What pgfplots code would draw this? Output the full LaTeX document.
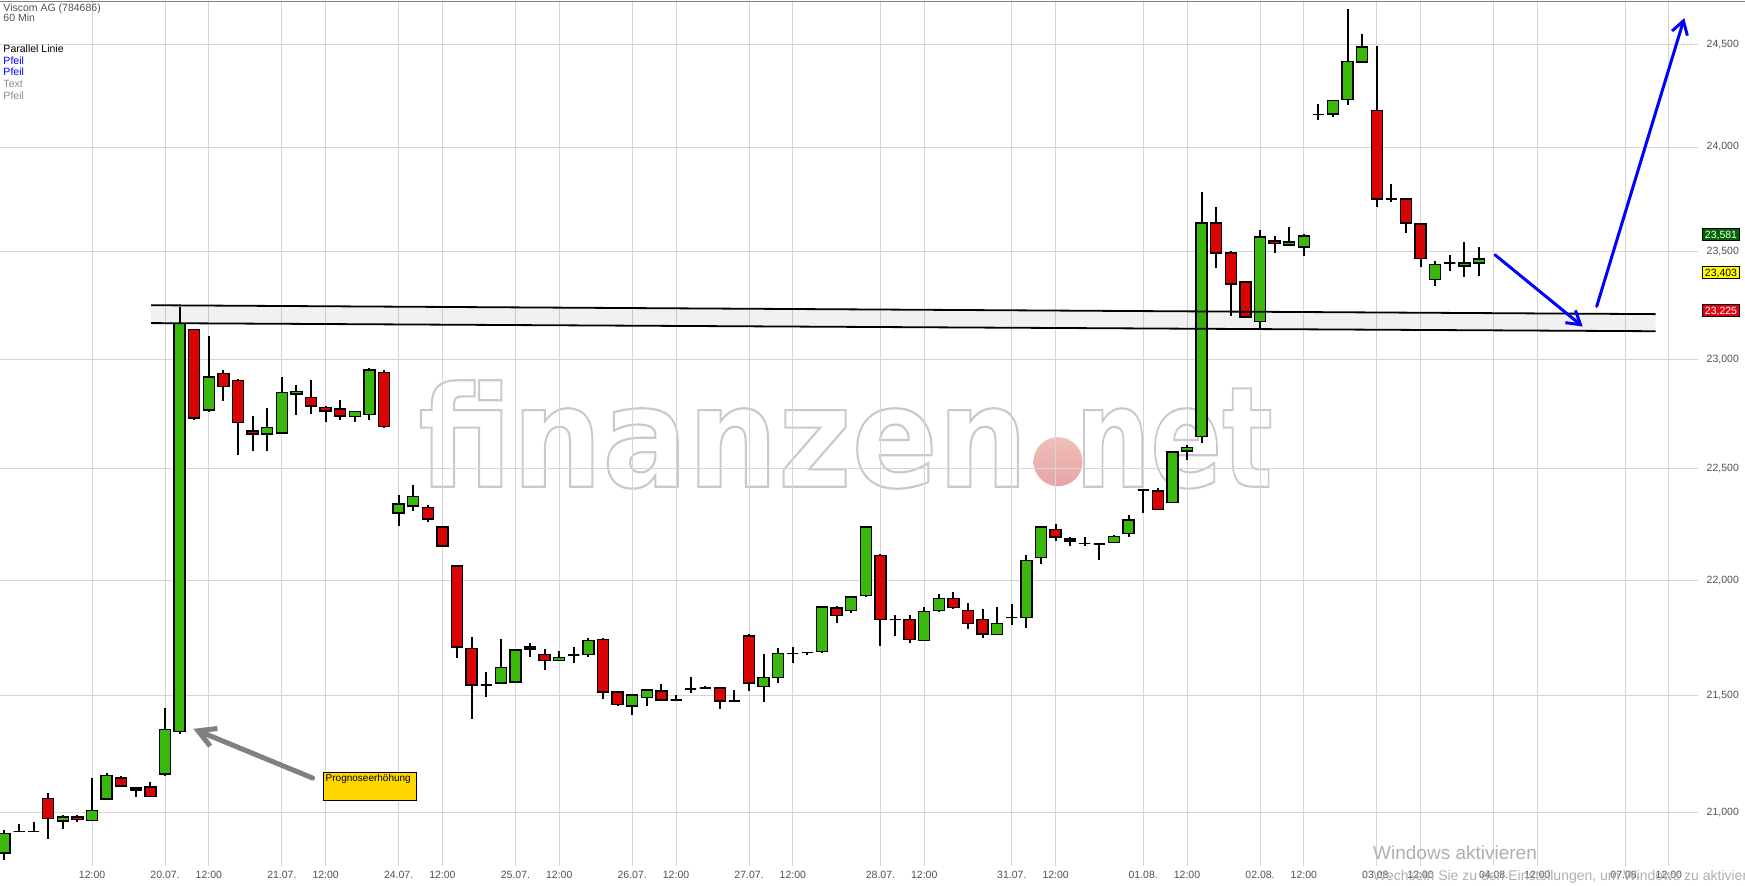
\documentclass[border=0pt]{standalone}
\usepackage{pgfplots}
\pgfplotsset{compat=1.18}
\usepackage{pgfplotstable}
\usepgfplotslibrary{statistics}
\usetikzlibrary{arrows.meta}
\usepackage{fontspec}
\setmainfont{Liberation Sans}
\newfontfamily\wmfont{DejaVu Sans}

\definecolor{cgreen}{RGB}{58,184,14}
\definecolor{cred}{RGB}{219,4,4}
\definecolor{gridc}{RGB}{214,214,214}
\definecolor{labc}{RGB}{80,80,80}
\definecolor{wmgray}{RGB}{200,200,200}
\definecolor{gold}{RGB}{255,215,0}
\definecolor{boxgreen}{RGB}{0,100,0}
\definecolor{boxred}{RGB}{225,0,20}
\definecolor{boxyellow}{RGB}{255,255,0}
\definecolor{arrowgray}{RGB}{128,128,128}
\definecolor{lightlab}{RGB}{140,140,140}
\definecolor{winc}{RGB}{175,175,175}

% hourly candles, one row per hour: open high low close
\pgfplotstableread{
o h l c
20.83 20.925 20.80 20.91
20.92 20.95 20.92 20.92
20.92 20.96 20.92 20.92
21.06 21.08 20.89 20.975
20.963 20.99 20.93 20.981
20.98 20.99 20.96 20.97
20.967 21.146 20.963 21.009
21.056 21.165 21.051 21.157
21.146 21.155 21.108 21.111
21.095 21.108 21.064 21.102
21.108 21.13 21.064 21.068
21.162 21.445 21.153 21.353
21.344 23.24 21.331 23.165
23.136 23.14 22.718 22.73
22.766 23.106 22.758 22.917
22.933 22.95 22.807 22.874
22.90 22.909 22.56 22.71
22.67 22.738 22.579 22.657
22.657 22.774 22.579 22.685
22.66 22.917 22.657 22.847
22.839 22.879 22.741 22.852
22.823 22.904 22.746 22.784
22.777 22.782 22.71 22.761
22.771 22.811 22.721 22.738
22.735 22.763 22.71 22.758
22.746 22.961 22.718 22.95
22.937 22.95 22.685 22.69
22.301 22.381 22.244 22.34
22.331 22.426 22.311 22.375
22.326 22.337 22.259 22.273
22.237 22.243 22.148 22.153
22.064 22.068 21.66 21.708
21.703 21.751 21.397 21.543
21.544 21.60 21.491 21.544
21.552 21.742 21.548 21.62
21.556 21.699 21.552 21.695
21.699 21.726 21.664 21.708
21.677 21.699 21.608 21.651
21.651 21.693 21.648 21.664
21.675 21.71 21.638 21.675
21.677 21.747 21.664 21.738
21.742 21.747 21.482 21.513
21.513 21.517 21.455 21.459
21.453 21.504 21.414 21.50
21.491 21.528 21.455 21.522
21.517 21.548 21.474 21.479
21.479 21.50 21.476 21.479
21.526 21.58 21.508 21.526
21.532 21.538 21.526 21.532
21.53 21.534 21.44 21.474
21.475 21.522 21.474 21.475
21.757 21.764 21.519 21.552
21.538 21.678 21.47 21.577
21.577 21.703 21.552 21.681
21.68 21.71 21.638 21.68
21.684 21.688 21.674 21.684
21.688 21.888 21.684 21.884
21.879 21.888 21.815 21.847
21.869 21.933 21.856 21.928
21.934 22.242 21.927 22.237
22.112 22.117 21.711 21.828
21.828 21.85 21.757 21.828
21.828 21.85 21.725 21.742
21.738 21.884 21.738 21.865
21.867 21.94 21.863 21.922
21.922 21.949 21.874 21.882
21.867 21.90 21.789 21.812
21.828 21.874 21.747 21.765
21.764 21.884 21.76 21.812
21.837 21.897 21.805 21.837
21.837 22.113 21.793 22.09
22.103 22.242 22.073 22.237
22.228 22.252 22.174 22.193
22.184 22.193 22.153 22.175
22.165 22.193 22.153 22.165
22.162 22.162 22.092 22.162
22.17 22.203 22.166 22.197
22.21 22.29 22.193 22.269
22.403 22.403 22.30 22.403
22.398 22.414 22.313 22.317
22.349 22.579 22.344 22.575
22.579 22.606 22.539 22.597
22.646 23.784 22.616 23.636
23.636 23.712 23.423 23.494
23.494 23.505 23.20 23.349
23.358 23.364 23.189 23.194
23.174 23.605 23.14 23.57
23.552 23.576 23.494 23.538
23.532 23.618 23.529 23.546
23.522 23.585 23.479 23.575
24.156 24.21 24.13 24.156
24.16 24.229 24.144 24.224
24.229 24.674 24.205 24.416
24.413 24.55 24.408 24.486
24.178 24.489 23.715 23.75
23.75 23.822 23.737 23.75
23.75 23.755 23.588 23.636
23.631 23.636 23.431 23.47
23.369 23.459 23.341 23.442
23.447 23.483 23.408 23.447
23.434 23.546 23.381 23.447
23.447 23.522 23.387 23.466
}\candles

\begin{document}
\begin{tikzpicture}[x=1bp,y=1bp]

% finanzen.net watermark (outlined text)
\node[anchor=base west, inner sep=0, xscale=0.905, text=wmgray,
  font=\wmfont\bfseries\fontsize{140bp}{140bp}\selectfont] at (418,398.3)
  {\special{pdf:literal direct 1 Tr 2.2 w 0.79 0.79 0.79 RG}finanzen\special{pdf:literal direct 0 Tr}};
\shade[top color={rgb,255:red,238;green,192;blue,182}, bottom color={rgb,255:red,232;green,163;blue,168}]
  (1058,423.3) circle[radius=24.5];
\node[anchor=base west, inner sep=0, xscale=0.755, text=wmgray,
  font=\wmfont\bfseries\fontsize{140bp}{140bp}\selectfont] at (1075,398.3)
  {\special{pdf:literal direct 1 Tr 2.2 w 0.79 0.79 0.79 RG}net\special{pdf:literal direct 0 Tr}};

\begin{axis}[
  at={(0bp,19bp)}, anchor=south west,
  scale only axis, width=1698bp, height=864bp,
  ymode=log, ymin=20.776, ymax=24.710,
  xmin=-0.305, xmax=116.0,
  clip=false,
  axis line style={draw=none},
  major tick length=0pt,
  grid=major,
  major grid style={draw=gridc, line width=1bp},
  xtick={6,11,14,19,22,27,30,35,38,43,46,51,54,60,63,69,72,78,81,86,89,94,97,102,105,111,114},
  xticklabels={12:00,20.07.,12:00,21.07.,12:00,24.07.,12:00,25.07.,12:00,26.07.,12:00,27.07.,12:00,28.07.,12:00,31.07.,12:00,01.08.,12:00,02.08.,12:00,03.08.,12:00,04.08.,12:00,07.08.,12:00},
  ytick={21,21.5,22,22.5,23,23.5,24,24.5},
  yticklabels={{21,000},{21,500},{22,000},{22,500},{23,000},{23,500},{24,000},{24,500}},
  yticklabel pos=right,
  tick label style={font=\fontsize{10.5bp}{12bp}\selectfont, text=labc, inner sep=0pt},
  xticklabel style={anchor=north, yshift=-5bp},
  yticklabel style={anchor=west, xshift=8.5bp},
  boxplot/draw direction=y,
  boxplot/box extend=0.75,
  boxplot/whisker extend=0,
  boxplot/every whisker/.style={line width=2bp, draw=black},
  boxplot/every median/.style={line width=1.4bp, draw=black},
]

% candles
\pgfplotsforeachungrouped \i in {0,...,101}{%
  \pgfplotstablegetelem{\i}{o}\of\candles \let\vo=\pgfplotsretval
  \pgfplotstablegetelem{\i}{h}\of\candles \let\vh=\pgfplotsretval
  \pgfplotstablegetelem{\i}{l}\of\candles \let\vl=\pgfplotsretval
  \pgfplotstablegetelem{\i}{c}\of\candles \let\vc=\pgfplotsretval
  \pgfmathsetmacro\vmin{min(\vo,\vc)}%
  \pgfmathsetmacro\vmax{max(\vo,\vc)}%
  \pgfmathtruncatemacro\vup{\vc>=\vo}%
  \ifnum\vup=1 \def\vcol{cgreen}\else\def\vcol{cred}\fi
  \edef\doplot{\noexpand\addplot[draw=black, line width=1.4bp, fill=\vcol,
    boxplot prepared={draw position=\i, lower whisker=\vl, lower quartile=\vmin,
      median=\vmin, upper quartile=\vmax, upper whisker=\vh}] coordinates {};}%
  \doplot
}

% parallel channel
\addplot[draw=none, fill=black, fill opacity=0.055]
  coordinates {(10.04,23.25) (113.1,23.208) (113.1,23.129) (10.04,23.166)} -- cycle;
\addplot[black, line width=1.8bp] coordinates {(10.04,23.25) (113.1,23.208)};
\addplot[black, line width=1.8bp] coordinates {(10.04,23.166) (113.1,23.129)};

% arrows
\addplot[blue, line width=3bp, line cap=round,
  -{Straight Barb[length=13bp, width=16bp, line width=3bp]}]
  coordinates {(102.09,23.486) (108.1,23.151)};
\addplot[blue, line width=3bp, line cap=round,
  -{Straight Barb[length=13bp, width=16bp, line width=3bp]}]
  coordinates {(109.06,23.244) (115.06,24.629)};
\addplot[arrowgray, line width=5bp, line cap=round,
  -{Straight Barb[length=17bp, width=19bp, line width=5bp]}]
  coordinates {(21.11,21.145) (12.935,21.355)};

% last-price markers on the price scale
\node[anchor=west, xshift=4bp, fill=boxgreen, draw=black, line width=0.8bp, text=white,
  inner xsep=2.5bp, inner ysep=2bp, text height=7.5bp, text depth=0.5bp,
  font=\fontsize{10.5bp}{12bp}\selectfont] at (axis cs:116,23.581) {23,581};
\node[anchor=west, xshift=4bp, fill=boxyellow, draw=black, line width=0.8bp, text=black,
  inner xsep=2.5bp, inner ysep=2bp, text height=7.5bp, text depth=0.5bp,
  font=\fontsize{10.5bp}{12bp}\selectfont] at (axis cs:116,23.403) {23,403};
\node[anchor=west, xshift=4bp, fill=boxred, draw=black, line width=0.8bp, text=white,
  inner xsep=2.5bp, inner ysep=2bp, text height=7.5bp, text depth=0.5bp,
  font=\fontsize{10.5bp}{12bp}\selectfont] at (axis cs:116,23.225) {23,225};
\end{axis}

% annotation box
\filldraw[fill=gold, draw=black, line width=0.8bp] (323.3,84.6) rectangle (416.7,112.5);
\node[anchor=mid west, inner sep=0, font=\fontsize{10bp}{12bp}\selectfont] at (325.5,106.5) {Prognoseerhöhung};

% top frame line
\draw[draw=arrowgray, line width=1.3bp] (0,883.6) -- (1745,883.6);

% header and drawing list
\begin{scope}[every node/.style={anchor=mid west, inner sep=0, font=\fontsize{10.5bp}{12bp}\selectfont}]
\node[text=labc] at (3.3,876.2) {Viscom AG (784686)};
\node[text=labc] at (3.3,866.2) {60 Min};
\node[text=black] at (3.3,835.2) {Parallel Linie};
\node[text=blue] at (3.3,823.5) {Pfeil};
\node[text=blue] at (3.3,812.2) {Pfeil};
\node[text=lightlab] at (3.3,800.2) {Text};
\node[text=lightlab] at (3.3,787.8) {Pfeil};
\end{scope}

% operating system overlay
\node[anchor=mid west, inner sep=0, text=winc, font=\fontsize{19bp}{22bp}\selectfont] at (1373,28) {Windows aktivieren};
\node[anchor=mid west, inner sep=0, text=winc, font=\fontsize{14bp}{16bp}\selectfont] at (1373,7) {Wechseln Sie zu den Einstellungen, um Windows zu aktivieren.};

\pgfresetboundingbox
\path[use as bounding box] (0,0) rectangle (1745,885);
\end{tikzpicture}
\end{document}
